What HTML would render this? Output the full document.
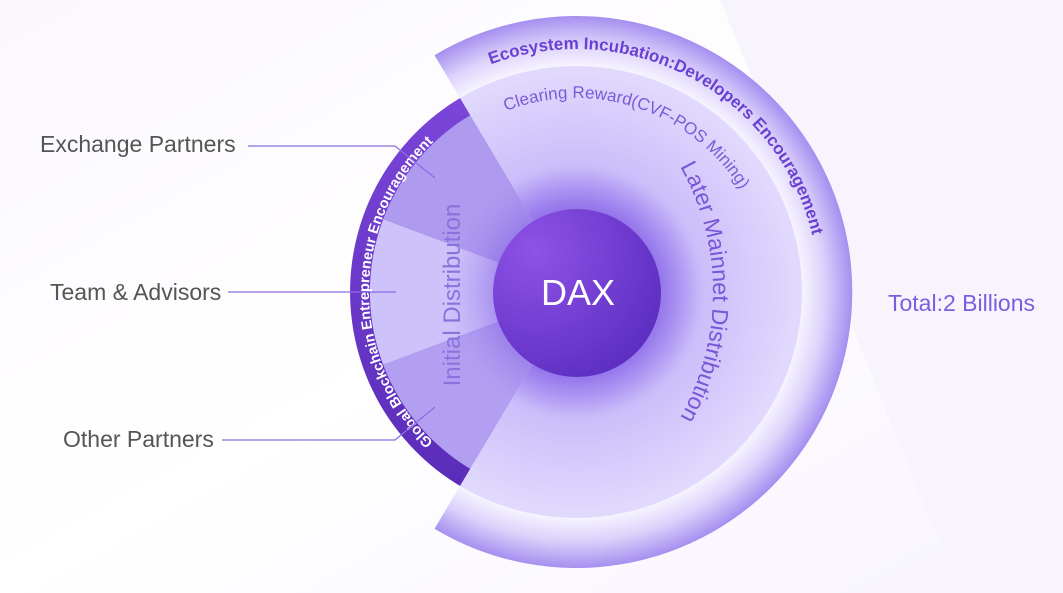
<!DOCTYPE html>
<html><head><meta charset="utf-8"><style>
html,body{margin:0;padding:0;width:1063px;height:593px;overflow:hidden;background:#fff;}
svg{display:block}
text{font-family:"Liberation Sans",sans-serif;}
</style></head><body>
<svg width="1063" height="593" viewBox="0 0 1063 593" xmlns="http://www.w3.org/2000/svg">
<defs>
<linearGradient id="bg" x1="0" y1="0" x2="1" y2="1">
<stop offset="0" stop-color="#fbf8fd"/><stop offset="0.5" stop-color="#ffffff"/><stop offset="1" stop-color="#f7f3fd"/>
</linearGradient>
<radialGradient id="ring" cx="576" cy="292" r="276" gradientUnits="userSpaceOnUse">
<stop offset="0.82" stop-color="#f6f3ff"/><stop offset="0.9" stop-color="#dcd2fb"/><stop offset="1" stop-color="#a58ff0"/>
</radialGradient>
<radialGradient id="disc" cx="576" cy="292" r="226" gradientUnits="userSpaceOnUse">
<stop offset="0.38" stop-color="#a48bf2"/><stop offset="0.55" stop-color="#cbbdfa"/><stop offset="1" stop-color="#e2dafd"/>
</radialGradient>
<radialGradient id="glow" cx="576" cy="292" r="130" gradientUnits="userSpaceOnUse">
<stop offset="0.6" stop-color="#7f58e0" stop-opacity="0.5"/><stop offset="1" stop-color="#9d85f0" stop-opacity="0"/>
</radialGradient>
<radialGradient id="dax" cx="0.25" cy="0.25" r="0.9">
<stop offset="0" stop-color="#8e52e6"/><stop offset="1" stop-color="#5a2cbf"/>
</radialGradient>
<linearGradient id="band" x1="0" y1="0" x2="0" y2="1">
<stop offset="0" stop-color="#7a45d8"/><stop offset="1" stop-color="#5a2cb8"/>
</linearGradient>
<path id="pEco" d="M 465.7 75.5 A 243 243 0 0 1 817.2 262.4"/>
<path id="pClr" d="M 464.7 133.1 A 194 194 0 0 1 760.5 232.1"/>
<path id="pLater" d="M 674.3 156.9 A 255 255 0 0 1 674.3 427.1"/>
<path id="pBand" d="M 488.5 479.6 A 207 207 0 0 1 488.5 104.4"/>
</defs>
<rect width="1063" height="593" fill="url(#bg)"/>
<polygon points="720,0 1063,0 1063,593 960,593" fill="#f7f4fd"/>

<path d="M 434.5 55.2 A 276 276 0 1 1 434.5 528.8 L 460.0 485.9 A 226 226 0 1 0 460.0 98.1 Z" fill="url(#ring)"/>
<path d="M 576 292 L 460.0 98.1 A 226 226 0 1 1 460.0 485.9 Z" fill="url(#disc)"/>
<path d="M 576 292 L 460.0 98.1 A 226 226 0 0 0 364.5 212.5 Z" fill="#ae9aef"/>
<path d="M 576 292 L 364.5 212.5 A 226 226 0 0 0 364.5 371.5 Z" fill="#cdc2fa"/>
<path d="M 576 292 L 364.5 371.5 A 226 226 0 0 0 460.0 485.9 Z" fill="#b29ff1"/>
<path d="M 460.0 98.1 A 226 226 0 0 0 460.0 485.9 L 470.2 468.8 A 206 206 0 0 1 470.2 115.2 Z" fill="url(#band)"/>

<circle cx="576" cy="292" r="130" fill="url(#glow)"/>
<circle cx="577" cy="293" r="84" fill="url(#dax)"/>
<text x="578" y="305" font-size="36" fill="#fff" text-anchor="middle">DAX</text>

<text font-size="17" font-weight="bold" fill="#6a40d2"><textPath href="#pEco" startOffset="50%" text-anchor="middle">Ecosystem Incubation:Developers Encouragement</textPath></text>
<text font-size="17" fill="#7a5ad8"><textPath href="#pClr" startOffset="50%" text-anchor="middle">Clearing Reward(CVF-POS Mining)</textPath></text>
<text font-size="23" fill="#7657d6"><textPath href="#pLater" startOffset="50%" text-anchor="middle">Later Mainnet Distribution</textPath></text>
<text x="0" y="0" transform="translate(460,295) rotate(-90)" font-size="24" fill="#8a72dc" text-anchor="middle">Initial Distribution</text>
<text font-size="14.5" font-weight="bold" fill="#fff"><textPath href="#pBand" startOffset="50%" text-anchor="middle">Global Blockchain Entrepreneur Encouragement</textPath></text>

<g stroke="#8a6ee0" stroke-width="1.2" fill="none">
<polyline points="248,146 395,146 435,178"/>
<line x1="228" y1="292" x2="396" y2="292"/>
<polyline points="222,440 395,440 435,407"/>
</g>
<text x="40" y="152" font-size="23" fill="#555">Exchange Partners</text>
<text x="50" y="300" font-size="23" fill="#555">Team &amp; Advisors</text>
<text x="63" y="447" font-size="23" fill="#555">Other Partners</text>
<text x="888" y="311" font-size="23" fill="#7b5de0">Total:2 Billions</text>
</svg>
</body></html>
